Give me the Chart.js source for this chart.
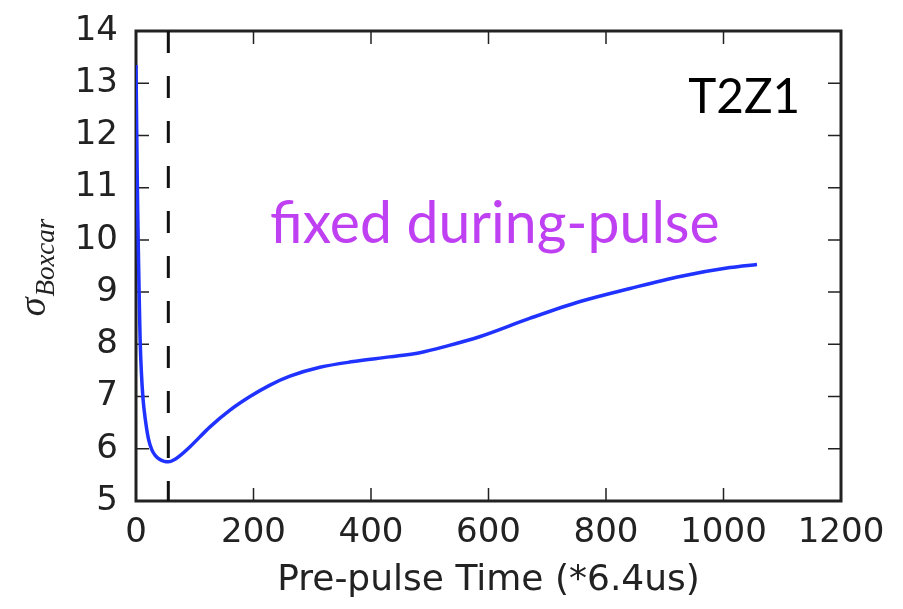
<!DOCTYPE html>
<html>
<head>
<meta charset="utf-8">
<script src="https://cdn.jsdelivr.net/npm/chart.js@4/dist/chart.umd.min.js"></script>
<style>
  html, body { margin: 0; padding: 0; background: #fff; }
  #wrap { width: 903px; height: 609px; position: relative; }
</style>
</head>
<body>
<div id="wrap"><canvas id="chartSigma"></canvas></div>
<script>
// pre-pulse time (units of 6.4us) and boxcar sigma
const preTime = [0, 1, 2, 3, 4, 5, 6, 7, 9, 12, 16, 21, 27, 33, 40, 48, 55, 65, 75, 92, 126, 160, 194, 228, 262, 313, 370, 432, 483, 530, 586, 671, 756, 841, 926, 1011, 1057];
const sigmaBoxcar = [13.35, 12.3, 11.3, 10.5, 9.8, 9.2, 8.6, 8.1, 7.5, 6.95, 6.55, 6.2, 5.98, 5.87, 5.8, 5.76, 5.75, 5.79, 5.87, 6.04, 6.42, 6.74, 7.0, 7.22, 7.39, 7.56, 7.67, 7.76, 7.84, 7.97, 8.15, 8.5, 8.82, 9.07, 9.3, 9.47, 9.53];
const markerTime = 55;
const xTicks = [0, 200, 400, 600, 800, 1000, 1200];
const yTicks = [5, 6, 7, 8, 9, 10, 11, 12, 13, 14];

const frame = {
  id: 'frame',
  beforeDatasetsDraw(chart) {
    const { ctx, chartArea: a, scales: { x, y } } = chart;
    ctx.save();
    ctx.strokeStyle = '#222';
    ctx.lineWidth = 1.5;
    ctx.beginPath();
    xTicks.forEach(v => {
      const px = x.getPixelForValue(v);
      ctx.moveTo(px, a.bottom); ctx.lineTo(px, a.bottom - 13);
      ctx.moveTo(px, a.top); ctx.lineTo(px, a.top + 13);
    });
    yTicks.forEach(v => {
      const py = y.getPixelForValue(v);
      ctx.moveTo(a.left, py); ctx.lineTo(a.left + 13, py);
      ctx.moveTo(a.right, py); ctx.lineTo(a.right - 13, py);
    });
    ctx.stroke();
    ctx.lineWidth = 3;
    ctx.strokeRect(a.left, a.top, a.right - a.left, a.bottom - a.top);
    ctx.restore();
  },
  afterDraw(chart) {
    const { ctx, scales: { x, y } } = chart;
    ctx.save();
    // y axis label: sigma with subscript
    ctx.translate(45, 268);
    ctx.rotate(-Math.PI / 2);
    ctx.fillStyle = '#222';
    ctx.textBaseline = 'alphabetic';
    ctx.font = 'italic 38px "Liberation Serif"';
    const sw = ctx.measureText('σ').width;
    ctx.font = 'italic 27px "Liberation Serif"';
    const bw = ctx.measureText('Boxcar').width;
    const x0 = -(sw + bw) / 2;
    ctx.font = 'italic 38px "Liberation Serif"';
    ctx.fillText('σ', x0, 0);
    ctx.font = 'italic 27px "Liberation Serif"';
    ctx.fillText('Boxcar', x0 + sw + 1, 9);
    ctx.restore();

    ctx.save();
    ctx.textBaseline = 'alphabetic';
    ctx.textAlign = 'left';
    ctx.fillStyle = '#000';
    ctx.font = '50px Lato';
    let w = ctx.measureText('T2Z1').width;
    ctx.font = (50 * 112 / w).toFixed(1) + 'px Lato';
    ctx.fillText('T2Z1', x.getPixelForValue(940), y.getPixelForValue(12.43));

    ctx.fillStyle = '#bf40f2';
    ctx.font = '40px "Comic Sans MS", Lato, sans-serif';
    w = ctx.measureText('fixed during-pulse').width;
    ctx.font = (40 * 450 / w).toFixed(1) + 'px "Comic Sans MS", Lato, sans-serif';
    ctx.fillText('fixed during-pulse', x.getPixelForValue(228), y.getPixelForValue(9.94));
    ctx.restore();
  }
};

new Chart(document.getElementById('chartSigma'), {
  type: 'scatter',
  data: {
    datasets: [{
      data: preTime.map((t, i) => ({ x: t, y: sigmaBoxcar[i] })),
      showLine: true,
      borderColor: '#1f32ff',
      borderWidth: 3.5,
      pointRadius: 0,
      cubicInterpolationMode: 'monotone'
    }, {
      data: [{ x: markerTime, y: yTicks[yTicks.length - 1] }, { x: markerTime, y: yTicks[0] }],
      showLine: true,
      borderColor: '#111',
      borderWidth: 3,
      borderDash: [22, 23],
      pointRadius: 0
    }]
  },
  options: {
    responsive: true,
    maintainAspectRatio: false,
    animation: false,
    layout: { padding: { left: 0, top: 31, right: 62, bottom: 0 } },
    plugins: { legend: { display: false }, tooltip: { enabled: false } },
    scales: {
      x: {
        type: 'linear',
        min: 0, max: 1200,
        afterBuildTicks: s => { s.ticks = xTicks.map(v => ({ value: v })); },
        afterFit: s => { s.height = 108; s.paddingLeft = 0; s.paddingRight = 0; },
        grid: { display: false, drawTicks: false },
        border: { display: false },
        ticks: { color: '#222', padding: 12, maxRotation: 0, callback: v => String(v), font: { family: 'DejaVu Sans', size: 34 } },
        title: { display: true, text: 'Pre-pulse Time (*6.4us)', color: '#222', padding: { top: 0, bottom: 7 }, font: { family: 'DejaVu Sans', size: 36 } }
      },
      y: {
        type: 'linear',
        min: 5, max: 14,
        afterBuildTicks: s => { s.ticks = yTicks.map(v => ({ value: v })); },
        afterFit: s => { s.width = 136; s.paddingTop = 0; s.paddingBottom = 0; },
        grid: { display: false, drawTicks: false },
        border: { display: false },
        ticks: { color: '#222', padding: 18, callback: v => String(v), font: { family: 'DejaVu Sans', size: 34 } }
      }
    }
  },
  plugins: [frame]
});
</script>
</body>
</html>
